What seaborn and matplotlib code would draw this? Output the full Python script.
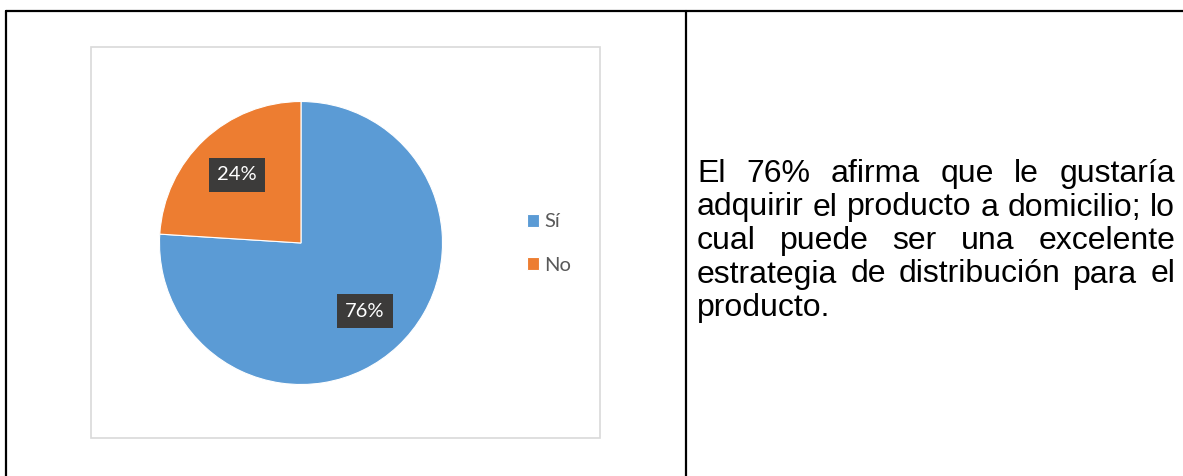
import matplotlib
matplotlib.use('Agg')
import matplotlib.pyplot as plt
import seaborn as sns
from matplotlib.patches import Rectangle
from matplotlib.lines import Line2D

# data
labels = ['Sí', 'No']
values = [76, 24]
colors = ['#5B9BD5', '#ED7D31']

text_lines = [
    "El 76% afirma que le gustaría",
    "adquirir el producto a domicilio; lo",
    "cual puede ser una excelente",
    "estrategia de distribución para el",
    "producto.",
]

W, H = 1183, 476
sns.set_theme(style='white')
plt.rcParams['font.family'] = ['Lato', 'DejaVu Sans']

fig = plt.figure(figsize=(W / 100, H / 100), dpi=100)


def fx(x):
    return x / W


def fy(y):
    return 1 - y / H


# table frame around chart and comment
for xs, ys in [((6, W), (11, 11)), ((6, 6), (11, H)), ((686, 686), (11, H))]:
    fig.add_artist(Line2D([fx(x) for x in xs], [fy(y) for y in ys],
                          color='black', lw=1.6))

# chart area border
fig.add_artist(Rectangle((fx(91), fy(438)), fx(600) - fx(91), fy(47) - fy(438),
                         fill=False, edgecolor='#D9D9D9', lw=1.2))

# pie
cx, cy, r = 301, 243, 141.5
ax = fig.add_axes([fx(cx - r), fy(cy + r), 2 * r / W, 2 * r / H])
wedges, texts, autotexts = ax.pie(
    values, colors=colors, startangle=90, counterclock=False,
    autopct='%1.0f%%', pctdistance=0.66,
    wedgeprops=dict(linewidth=0.8, edgecolor='white'),
    textprops=dict(color='white', fontsize=14.5))
for t in autotexts:
    t.set_bbox(dict(boxstyle='square,pad=0.42', facecolor='#3C3B3A', edgecolor='none'))
ax.set_xlim(-1, 1)
ax.set_ylim(-1, 1)

leg = ax.legend(wedges, labels, loc='center left',
                bbox_to_anchor=(fx(527), fy(243.5)), bbox_transform=fig.transFigure,
                frameon=False, fontsize=14.5, handlelength=0.6, handleheight=0.6,
                handletextpad=0.25, labelspacing=1.3, borderpad=0,
                borderaxespad=0, labelcolor='#595959')

# justified comment text (Arial-like), size fitted to the cell width
renderer = fig.canvas.get_renderer()
x0, x1 = 697, 1175
baselines = [182, 215.5, 249, 282.5, 316]
probe = fig.text(0, 0, text_lines[1], fontsize=20, family='Liberation Sans')
fs = 20 * (x1 - x0 - 2) / probe.get_window_extent(renderer).width
probe.remove()

space = fig.text(0, 0, 'a b', fontsize=fs, family='Liberation Sans')
ab = fig.text(0, 0, 'ab', fontsize=fs, family='Liberation Sans')
space_w = space.get_window_extent(renderer).width - ab.get_window_extent(renderer).width
space.remove()
ab.remove()

for i, line in enumerate(text_lines):
    words = line.split()
    ts = [fig.text(0, 0, w, fontsize=fs, family='Liberation Sans',
                   color='black', va='baseline') for w in words]
    widths = [t.get_window_extent(renderer).width for t in ts]
    if i == len(text_lines) - 1 or len(words) == 1:
        gap = space_w
    else:
        gap = (x1 - x0 - sum(widths)) / (len(words) - 1)
    x = x0
    for t, w in zip(ts, widths):
        t.set_position((fx(x), fy(baselines[i])))
        x += w + gap

fig.savefig('out.png', dpi=100)
